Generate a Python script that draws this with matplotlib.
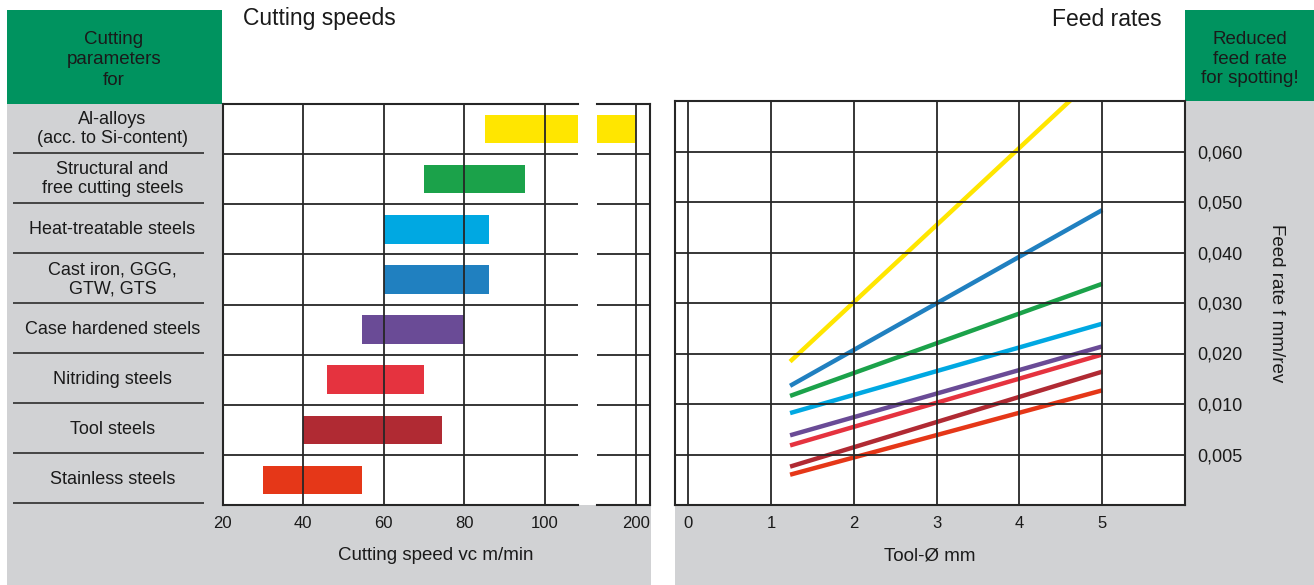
import numpy as np
import matplotlib
matplotlib.use("Agg")
import matplotlib.pyplot as plt
from matplotlib.patches import Rectangle

plt.rcParams['font.family'] = ['Liberation Sans', 'DejaVu Sans']

# materials, top to bottom
materials = [
    "Al-alloys\n(acc. to Si-content)",
    "Structural and\nfree cutting steels",
    "Heat-treatable steels",
    "Cast iron, GGG,\nGTW, GTS",
    "Case hardened steels",
    "Nitriding steels",
    "Tool steels",
    "Stainless steels",
]
colors = ["#FFE600", "#1BA24A", "#00A8E2", "#2080C0",
          "#6A4B96", "#E5333F", "#B02A33", "#E53718"]

# cutting speed ranges vc (m/min)
vc_min = [85, 70, 60, 60, 54.5, 46, 40, 30]
vc_max = [200, 95, 86, 86, 80, 70, 74.5, 54.5]

# feed rate f (mm/rev) at the smallest and largest tool diameter
tool_d = [1.23, 5.0]
feed_start = [0.0184, 0.0116, 0.0091, 0.0136, 0.0069, 0.0059, 0.0038, 0.0030]
feed_end = [0.0760, 0.0338, 0.0259, 0.0484, 0.0214, 0.0198, 0.0164, 0.0127]

vc_ticks = [20, 40, 60, 80, 100]
vc_ticks_high = [200]
d_ticks = [0, 1, 2, 3, 4, 5]
f_ticks = [0.005, 0.010, 0.020, 0.030, 0.040, 0.050, 0.060]
f_labels = ["0,005", "0,010", "0,020", "0,030", "0,040", "0,050", "0,060"]

W, H = 1314, 585
GREEN = "#00935F"
GRAY = "#D1D2D4"
INK = "#1A1A1A"
GRID = "#262626"


def rect(x0, y0, x1, y1):
    return [x0 / W, 1 - y1 / H, (x1 - x0) / W, (y1 - y0) / H]


def box(x0, y0, x1, y1, color):
    fig.add_artist(Rectangle((x0 / W, 1 - y1 / H), (x1 - x0) / W, (y1 - y0) / H,
                             transform=fig.transFigure, color=color, zorder=0, lw=0))


# feed-rate axis: 0..0.005..0.010 then 0.010 per gridline
def f_fwd(v):
    v = np.asarray(v, dtype=float)
    return np.where(v <= 0.005, v / 0.005,
                    np.where(v <= 0.010, 1 + (v - 0.005) / 0.005, 2 + (v - 0.010) / 0.010))


def f_inv(s):
    s = np.asarray(s, dtype=float)
    return np.where(s <= 1, s * 0.005,
                    np.where(s <= 2, 0.005 + (s - 1) * 0.005, 0.010 + (s - 2) * 0.010))


fig = plt.figure(figsize=(W / 100, H / 100), dpi=100)
fig.patch.set_facecolor("white")

# background panels
box(7, 10, 222, 104, GREEN)
box(7, 104, 222, H, GRAY)
box(7, 505, 651, H, GRAY)
box(1185, 10, W, 101, GREEN)
box(1185, 101, W, H, GRAY)
box(675, 505, W, H, GRAY)

fig.text(114 / W, 1 - 60 / H, "Cutting\nparameters\nfor", ha="center", va="center",
         fontsize=13.5, color=INK, linespacing=1.28)
fig.text(1250 / W, 1 - 59 / H, "Reduced\nfeed rate\nfor spotting!", ha="center", va="center",
         fontsize=13.5, color=INK, linespacing=1.22)
fig.text(243 / W, 1 - 19 / H, "Cutting speeds", ha="left", va="center", fontsize=16.5, color=INK)
fig.text(1162 / W, 1 - 19 / H, "Feed rates", ha="right", va="center", fontsize=16.5, color=INK)

rows = np.arange(len(materials))

# material labels
ax0 = fig.add_axes(rect(7, 104, 222, 505))
ax0.set_xlim(0, 1)
ax0.set_ylim(len(materials) - 0.5, -0.5)
ax0.axis("off")
for i, name in enumerate(materials):
    ax0.text(0.49, i, name, ha="center", va="center", fontsize=13, color=INK, linespacing=1.15)
ax0.hlines(rows + 0.47, 0.03, 0.915, color="#3A3A3A", lw=1.3)

# cutting speed bars, broken axis
ax1 = fig.add_axes(rect(222.7, 104, 578, 505))
ax2 = fig.add_axes(rect(597, 104, 650, 505))
for ax, lim, ticks in [(ax1, (20, 108.2), vc_ticks), (ax2, (190.3, 203.5), vc_ticks_high)]:
    ax.barh(rows, np.array(vc_max) - np.array(vc_min), left=vc_min, height=0.57,
            color=colors, zorder=1)
    ax.set_xlim(*lim)
    ax.set_ylim(len(materials) - 0.5, -0.5)
    ax.set_xticks(ticks)
    ax.set_yticks(rows[:-1] + 0.5)
    ax.set_yticklabels([])
    ax.grid(True, color=GRID, lw=1.3)
    ax.set_axisbelow(False)
    ax.tick_params(length=0, labelsize=12, pad=8, colors=INK)
    for s in ax.spines.values():
        s.set_color(GRID)
        s.set_linewidth(1.5)
ax1.spines["right"].set_visible(False)
ax2.spines["left"].set_visible(False)

fig.text(436 / W, 1 - 556 / H, "Cutting speed vc m/min", ha="center", va="center",
         fontsize=13.5, color=INK)

# feed rate lines
ax3 = fig.add_axes(rect(675, 101, 1185, 505))
ax3.set_yscale("function", functions=(f_fwd, f_inv))
for fs, fe, c in zip(feed_start, feed_end, colors):
    ax3.plot(tool_d, [fs, fe], color=c, lw=3.2, solid_capstyle="butt", zorder=2)
ax3.set_xlim(-0.16, 6.0)
ax3.set_ylim(0, 0.070)
ax3.set_xticks(d_ticks)
ax3.set_yticks(f_ticks)
ax3.set_yticklabels(f_labels)
ax3.yaxis.tick_right()
ax3.grid(True, color=GRID, lw=1.3)
ax3.set_axisbelow(False)
ax3.tick_params(axis="x", length=0, labelsize=12, pad=8, colors=INK)
ax3.tick_params(axis="y", length=0, labelsize=13, pad=9, colors=INK)
for s in ax3.spines.values():
    s.set_color(GRID)
    s.set_linewidth(1.5)

fig.text(930 / W, 1 - 556 / H, "Tool-Ø mm", ha="center", va="center", fontsize=13.5, color=INK)
fig.text(1277 / W, 1 - 303 / H, "Feed rate f mm/rev", ha="center", va="center",
         rotation=-90, fontsize=13.5, color=INK)

fig.savefig("out.png", dpi=100)
